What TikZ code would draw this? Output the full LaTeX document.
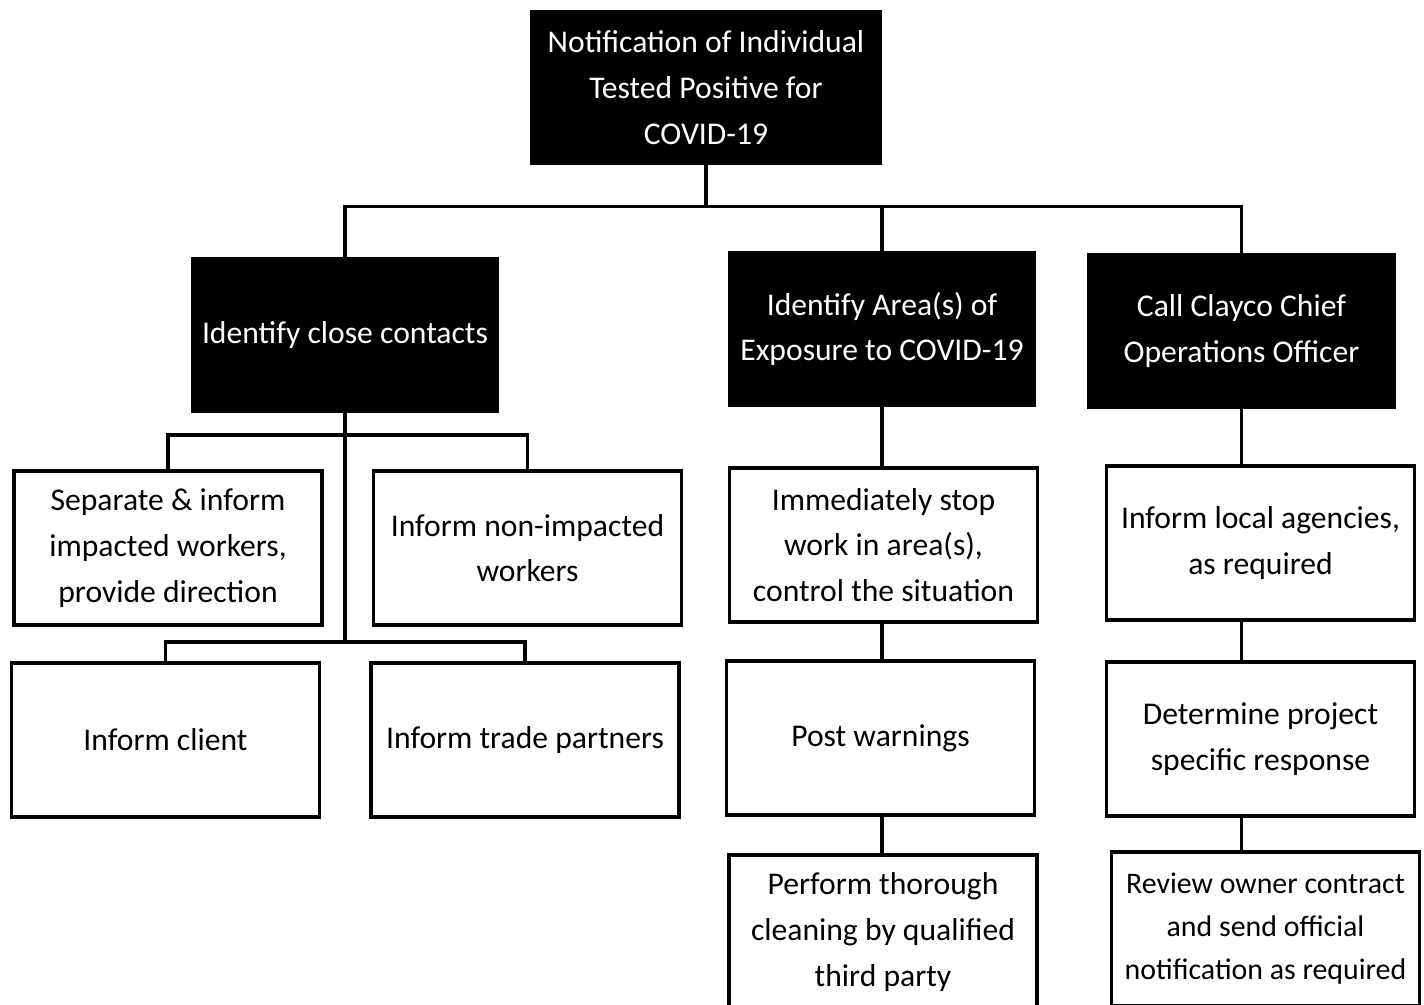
\documentclass[tikz,border=0pt]{standalone}
\usepackage{fontspec}
\setmainfont{Carlito}
\usetikzlibrary{positioning,calc}

\begin{document}
\begin{tikzpicture}[font=\fontsize{18}{26}\selectfont,
  headbox/.style={draw=black, fill=black, text=white, line width=2pt, align=center, minimum width=6.1cm, minimum height=3.04cm},
  stepbox/.style={draw=black, fill=white, line width=2pt, align=center, minimum width=6.16cm, minimum height=3.08cm},
  link/.style={line width=1.8pt}]
  \useasboundingbox (0,0) rectangle (28.48,-20.1);
  \clip (0,0) rectangle (28.48,-20.1);
  % top box
  \node[headbox, minimum width=6.96cm, minimum height=3.02cm] (top) at (14.12,-1.75) {Notification of Individual\\Tested Positive for\\COVID-19};
  % second row
  \node[headbox] (cc)   at (6.90,-6.70)  {Identify close contacts};
  \node[headbox] (area) at (17.64,-6.58) {Identify Area(s) of\\Exposure to COVID-19};
  \node[headbox] (call) at (24.83,-6.62) {Call Clayco Chief\\Operations Officer};
  % close contacts branch
  \node[stepbox] (sep)    at (3.36,-10.96)  {Separate \& inform\\impacted workers,\\provide direction};
  \node[stepbox] (non)    at (10.55,-10.96) {Inform non-impacted\\workers};
  \node[stepbox] (client) at (3.31,-14.80)  {Inform client};
  \node[stepbox] (trade)  at (10.50,-14.80) {Inform trade partners};
  % exposure column
  \node[stepbox] (stop)  at (17.67,-10.90) {Immediately stop\\work in area(s),\\control the situation};
  \node[stepbox] (post)  at (17.61,-14.76) {Post warnings};
  \node[stepbox] (clean) at (17.66,-18.64) {Perform thorough\\cleaning by qualified\\third party};
  % officer column
  \node[stepbox] (local)     at (25.21,-10.86) {Inform local agencies,\\as required};
  \node[stepbox] (determine) at (25.21,-14.78) {Determine project\\specific response};
  \node[stepbox, font=\fontsize{17}{24.5}\selectfont] (review) at (25.31,-18.58) {Review owner contract\\and send official\\notification as required};
  % connectors
  \coordinate (j0) at ($(top.south)+(0,-0.84)$);
  \draw[link] (top.south) -- (j0);
  \draw[link] (cc.north) |- (j0) -| (call.north);
  \draw[link] (area.north) -- (area.north |- j0);
  \coordinate (j1) at (cc.south |- 0,-8.70);
  \coordinate (j2) at (cc.south |- 0,-12.84);
  \draw[link] (cc.south) -- (j2);
  \draw[link] (sep.north) |- (j1) -| (non.north);
  \draw[link] (client.north) |- (j2) -| (trade.north);
  \foreach \a/\b/\c in {area/stop/area,stop/post/area,post/clean/area,call/local/call,local/determine/call,determine/review/call}
    \draw[link] (\a.south -| \c) -- (\b.north -| \c);
\end{tikzpicture}
\end{document}
